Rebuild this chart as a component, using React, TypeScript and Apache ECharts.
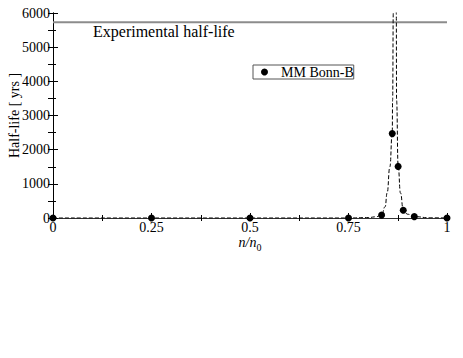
import React, { useEffect, useRef } from "react";
import * as echarts from "echarts";

const FONT = '"Liberation Serif", "Times New Roman", serif';

// Measured half-life points (MM Bonn-B)
const pointsX = [0, 0.25, 0.5, 0.75, 0.834, 0.861, 0.876, 0.889, 0.917, 1];
const pointsY = [0, 0, 0, 0, 85, 2470, 1510, 225, 40, 0];

// Dashed theory curve, left branch (up to the pole) and right branch
const curveLeftX = [0, 0.25, 0.5, 0.75, 0.8, 0.82, 0.834, 0.843, 0.848, 0.855, 0.861, 0.862, 0.8637, 0.8645];
const curveLeftY = [0, 0, 0, 0, 12, 35, 90, 330, 730, 1500, 2480, 3460, 6000, 8000];
const curveRightX = [0.8705, 0.8713, 0.872, 0.876, 0.882, 0.889, 0.9, 0.917, 0.957, 1];
const curveRightY = [8000, 6000, 3460, 1520, 730, 235, 110, 40, 5, 0];

// Experimental half-life reference line
const experimentalX = [0, 1];
const experimentalY = [5730, 5730];

const xTickLabels = ["0", "0.25", "0.5", "0.75", "1"];
const seriesName = "MM Bonn-B";
const experimentalLabel = "Experimental half-life";

const zip = (xs: number[], ys: number[]) => xs.map((x, i) => [x, ys[i]]);

export default function App() {
  const ref = useRef<HTMLDivElement>(null);
  useEffect(() => {
    document.body.style.margin = "0";
    const chart = echarts.init(ref.current!, null, { renderer: "svg" });
    const axisLine = { show: true, lineStyle: { color: "#000", width: 1 } };
    const dashed = {
      type: "line",
      showSymbol: false,
      smooth: true,
      smoothMonotone: "x",
      lineStyle: { color: "#000", width: 1, type: [4, 2] },
      z: 3,
      silent: true,
    };
    chart.setOption({
      animation: false,
      textStyle: { fontFamily: FONT },
      grid: { left: 53, right: 16, top: 13, bottom: 140, outerBoundsMode: "none", containLabel: false },
      legend: {
        data: [seriesName],
        left: 253,
        top: 65,
        icon: "circle",
        itemWidth: 7,
        itemHeight: 7,
        itemGap: 0,
        borderColor: "#555",
        borderWidth: 1,
        padding: [0, 0, 0, 8],
        itemStyle: { opacity: 1, color: "#000" },
        textStyle: { fontSize: 14, fontFamily: FONT, color: "#000", padding: [0, 0, 0, 8], lineHeight: 13 },
      },
      xAxis: [
        {
          type: "value",
          min: 0,
          max: 1,
          interval: 0.25,
          position: "bottom",
          axisLine,
          axisTick: { show: true, inside: true, length: 5, lineStyle: { color: "#000" } },
          minorTick: { show: true, splitNumber: 2, length: 3, lineStyle: { color: "#000" } },
          splitLine: { show: false },
          axisLabel: {
            fontSize: 14,
            fontFamily: FONT,
            color: "#000",
            margin: 2,
            formatter: (v: number) => xTickLabels[Math.round(v * 4)] ?? String(v),
          },
          name: "{i|n/n}{s|0}",
          nameLocation: "middle",
          nameGap: 14,
          nameMoveOverlap: false,
          nameTextStyle: {
            rich: {
              i: { fontSize: 14, fontStyle: "italic", fontFamily: FONT, color: "#000" },
              s: { fontSize: 10, fontFamily: FONT, color: "#000", padding: [10, 0, 0, 0] },
            },
          },
        },
        {
          type: "value",
          min: 0,
          max: 1,
          interval: 0.25,
          position: "top",
          axisLine: { show: true, lineStyle: { color: "#333", width: 1 } },
          axisTick: { show: true, inside: true, length: 3, lineStyle: { color: "#000" } },
          minorTick: { show: true, splitNumber: 2, length: 3, lineStyle: { color: "#000" } },
          splitLine: { show: false },
          axisLabel: { show: false },
        },
      ],
      yAxis: [
        {
          type: "value",
          min: 0,
          max: 6000,
          interval: 1000,
          position: "left",
          axisLine,
          axisTick: { show: true, inside: true, length: 5, lineStyle: { color: "#000" } },
          minorTick: { show: true, splitNumber: 2, length: 3, lineStyle: { color: "#000" } },
          splitLine: { show: false },
          axisLabel: {
            fontSize: 14,
            fontFamily: FONT,
            color: "#000",
            margin: 3,
            formatter: (v: number) => String(v),
          },
          name: "Half-life [ yrs ]",
          nameLocation: "middle",
          nameGap: 32,
          nameMoveOverlap: false,
          nameTextStyle: { fontSize: 14, fontFamily: FONT, color: "#000" },
        },
        {
          type: "value",
          min: 0,
          max: 6000,
          interval: 1000,
          position: "right",
          axisLine,
          axisTick: { show: true, inside: true, length: 5, lineStyle: { color: "#000" } },
          minorTick: { show: true, splitNumber: 2, length: 5, lineStyle: { color: "#000" } },
          splitLine: { show: false },
          axisLabel: { show: false },
        },
      ],
      graphic: [
        {
          type: "text",
          left: 93,
          top: 23,
          style: { text: experimentalLabel, font: `16px ${FONT}`, fill: "#000" },
        },
      ],
      series: [
        {
          type: "line",
          data: zip(experimentalX, experimentalY),
          showSymbol: false,
          lineStyle: { color: "#8c8c8c", width: 2 },
          silent: true,
          z: 1,
        },
        { ...dashed, data: zip(curveLeftX, curveLeftY) },
        { ...dashed, data: zip(curveRightX, curveRightY) },
        {
          name: seriesName,
          type: "scatter",
          data: zip(pointsX, pointsY),
          symbol: "circle",
          symbolSize: 7,
          itemStyle: { color: "#000", opacity: 1 },
          clip: false,
          z: 4,
        },
      ],
    });
    return () => chart.dispose();
  }, []);
  return <div ref={ref} style={{ width: 463, height: 358 }} />;
}
